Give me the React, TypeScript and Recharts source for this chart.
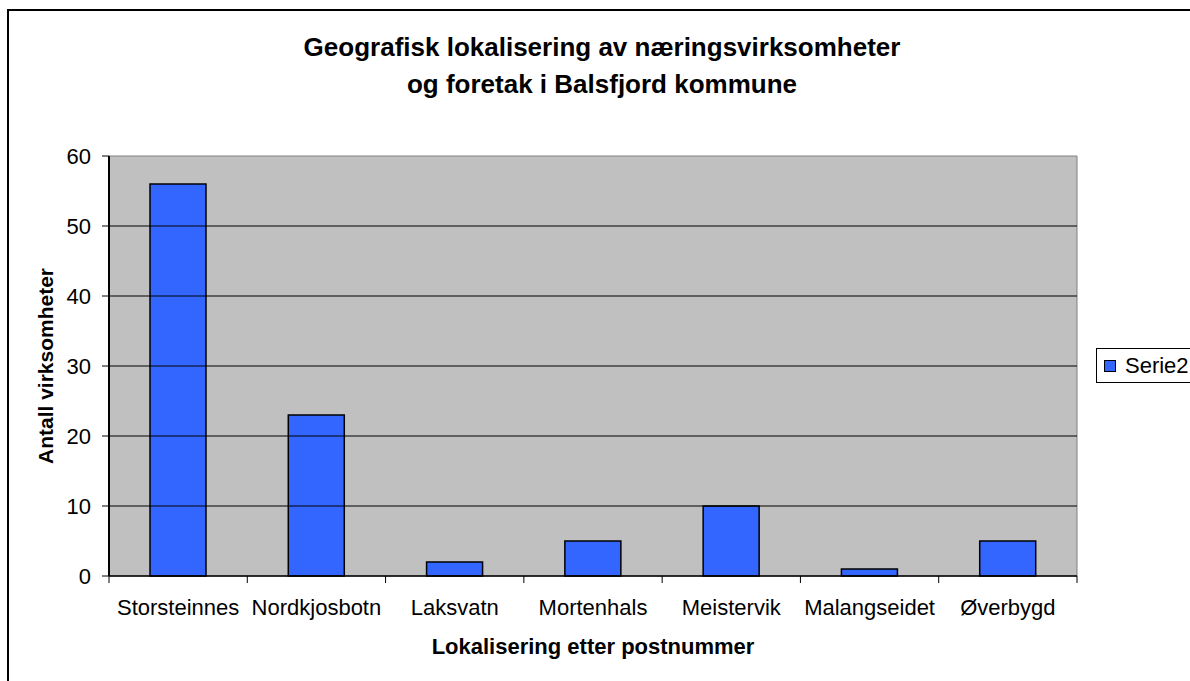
import React from 'react'
import {
  BarChart,
  Bar,
  XAxis,
  YAxis,
  Legend,
  ReferenceArea,
  ReferenceLine,
  Label,
} from 'recharts'

const places = [
  'Storsteinnes',
  'Nordkjosbotn',
  'Laksvatn',
  'Mortenhals',
  'Meistervik',
  'Malangseidet',
  'Øverbygd',
]
const counts = [56, 23, 2, 5, 10, 1, 5]
const yTicks = [0, 10, 20, 30, 40, 50, 60]
const gridValues = [10, 20, 30, 40, 50]

const titleLines = ['Geografisk lokalisering av næringsvirksomheter', 'og foretak i Balsfjord kommune']
const seriesName = 'Serie2'

const data = places.map((name, i) => ({ name, count: counts[i] }))

const FONT = '"Liberation Sans", Arial, Helvetica, sans-serif'
const BAR_BLUE = '#3366FF'

// plot area in page px
const PLOT_LEFT = 109
const PLOT_RIGHT = 1077
const PLOT_TOP = 156
const PLOT_BOTTOM = 576
const HALF_BAND = (PLOT_RIGHT - PLOT_LEFT) / places.length / 2

function CategoryTick(props: any) {
  const { x, y, payload, index } = props
  const half = payload?.offset || HALF_BAND
  const last = index === places.length - 1
  return (
    <g>
      <line x1={x - half} x2={x - half} y1={y} y2={y + 7} stroke="#000" />
      {last && <line x1={x + half} x2={x + half} y1={y} y2={y + 7} stroke="#000" />}
      <text x={x} y={y + 39} textAnchor="middle" fontSize={22} fontFamily={FONT} fill="#000">
        {payload.value}
      </text>
    </g>
  )
}

function LegendBox() {
  return (
    <div
      style={{
        boxSizing: 'border-box',
        height: 35,
        width: 120,
        border: '1px solid #000',
        background: '#fff',
        display: 'flex',
        alignItems: 'center',
        paddingLeft: 7,
        fontFamily: FONT,
        fontSize: 22,
        color: '#000',
      }}
    >
      <span
        style={{
          display: 'inline-block',
          width: 12,
          height: 12,
          boxSizing: 'border-box',
          background: BAR_BLUE,
          border: '1px solid #000',
          marginRight: 9,
        }}
      />
      <span>{seriesName}</span>
    </div>
  )
}

export default function App() {
  return (
    <div
      style={{
        position: 'fixed',
        left: 0,
        top: 0,
        width: 1190,
        height: 681,
        overflow: 'hidden',
        background: '#fff',
        fontFamily: FONT,
      }}
    >
      <div
        style={{
          position: 'absolute',
          left: 7,
          top: 9,
          width: 1300,
          height: 800,
          border: '2px solid #000',
        }}
      />
      <div
        style={{
          position: 'absolute',
          left: 102,
          top: 29,
          width: 1000,
          textAlign: 'center',
          fontSize: 26,
          fontWeight: 'bold',
          lineHeight: '37px',
          color: '#000',
        }}
      >
        {titleLines.map((t) => (
          <div key={t}>{t}</div>
        ))}
      </div>
      <div style={{ position: 'absolute', left: 0, top: 0 }}>
        <BarChart
          width={1190}
          height={681}
          data={data}
          margin={{ top: PLOT_TOP, right: 1190 - PLOT_RIGHT, bottom: 681 - PLOT_BOTTOM - 30, left: PLOT_LEFT - 60 }}
        >
          <ReferenceArea y1={0} y2={60} fill="#C0C0C0" fillOpacity={1} stroke="#808080" strokeWidth={1} />
          {gridValues.map((v) => (
            <ReferenceLine key={v} y={v} stroke="#000" strokeWidth={1} />
          ))}
          <XAxis
            dataKey="name"
            height={30}
            interval={0}
            tickLine={false}
            tickSize={0}
            tickMargin={0}
            axisLine={{ stroke: '#000', strokeWidth: 1.5 }}
            tick={<CategoryTick />}
          >
            <Label
              content={({ viewBox }: any) => (
                <text
                  x={viewBox.x + viewBox.width / 2}
                  y={viewBox.y + 78}
                  textAnchor="middle"
                  fontSize={22}
                  fontWeight="bold"
                  fontFamily={FONT}
                  fill="#000"
                >
                  Lokalisering etter postnummer
                </text>
              )}
            />
          </XAxis>
          <YAxis
            width={60}
            domain={[0, 60]}
            ticks={yTicks}
            interval={0}
            tickSize={7}
            tickMargin={11}
            axisLine={{ stroke: '#000', strokeWidth: 2 }}
            tickLine={{ stroke: '#000' }}
            tick={{ fontSize: 22, fill: '#000', fontFamily: FONT }}
          >
            <Label
              content={({ viewBox }: any) => {
                const cx = viewBox.x + 4
                const cy = viewBox.y + viewBox.height / 2
                return (
                  <text
                    transform={`translate(${cx},${cy}) rotate(-90)`}
                    textAnchor="middle"
                    fontSize={21}
                    fontWeight="bold"
                    fontFamily={FONT}
                    fill="#000"
                  >
                    Antall virksomheter
                  </text>
                )
              }}
            />
          </YAxis>
          <Legend
            layout="horizontal"
            verticalAlign="middle"
            align="center"
            wrapperStyle={{ left: 1096, top: 348, width: 120, height: 35 }}
            content={() => <LegendBox />}
          />
          <Bar
            dataKey="count"
            name={seriesName}
            fill={BAR_BLUE}
            stroke="#000"
            strokeWidth={1.5}
            barSize={56}
            isAnimationActive={false}
          />
        </BarChart>
      </div>
    </div>
  )
}
